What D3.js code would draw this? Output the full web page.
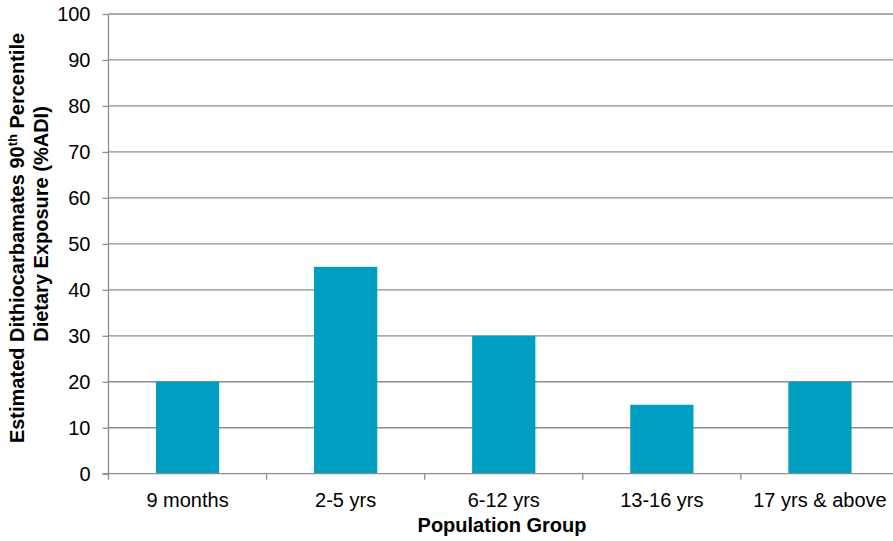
<!DOCTYPE html>
<html>
<head>
<meta charset="utf-8">
<script src="https://cdn.jsdelivr.net/npm/d3@7"></script>
<style>
  html, body { margin: 0; padding: 0; background: #fff; }
  svg { display: block; font-family: "Liberation Sans", Arial, sans-serif; }
</style>
</head>
<body>
<svg id="chart" width="893" height="541"></svg>
<script>
// Population groups and their 90th percentile dietary exposure (%ADI)
const groups = ["9 months", "2-5 yrs", "6-12 yrs", "13-16 yrs", "17 yrs & above"];
const exposure = [20, 45, 30, 15, 20];
const yTicks = [0, 10, 20, 30, 40, 50, 60, 70, 80, 90, 100];

const svg = d3.select("#chart");
const gridColor = "#8e8e8e";
const barColor = "#009fc2";

const plotLeft = 108.5, plotRight = 899, plotTop = 14, plotBottom = 473.7;

const x = d3.scaleBand().domain(groups).range([plotLeft, plotRight]).paddingInner(0).paddingOuter(0);
const y = d3.scaleLinear().domain([0, 100]).range([plotBottom, plotTop]);

// horizontal gridlines
svg.append("g")
  .selectAll("line")
  .data(yTicks.filter(d => d > 0))
  .join("line")
  .attr("x1", plotLeft).attr("x2", plotRight)
  .attr("y1", d => y(d)).attr("y2", d => y(d))
  .attr("stroke", gridColor).attr("stroke-width", 1.3);

// bars: Excel-style gap width of 150%
const barW = x.bandwidth() / 2.5;
svg.append("g")
  .selectAll("rect")
  .data(groups)
  .join("rect")
  .attr("x", (d) => x(d) + (x.bandwidth() - barW) / 2)
  .attr("width", barW)
  .attr("y", (d, i) => y(exposure[i]))
  .attr("height", (d, i) => y(0) - y(exposure[i]))
  .attr("fill", barColor);

// y axis
const yAxis = d3.axisLeft(y).tickValues(yTicks).tickSize(6).tickPadding(12).tickFormat(d3.format("d"));
const gy = svg.append("g").attr("transform", `translate(${plotLeft},0)`).call(yAxis);
gy.select(".domain").attr("stroke", gridColor).attr("stroke-width", 1.3).attr("d", `M0,${plotBottom}V${plotTop}`);
gy.selectAll(".tick line").attr("stroke", gridColor).attr("stroke-width", 1.3);
gy.selectAll(".tick text").attr("font-size", "20px").attr("fill", "#000")
  .attr("font-family", "Liberation Sans, Arial, sans-serif");

// x axis with ticks at category boundaries
const gx = svg.append("g").attr("transform", `translate(0,${plotBottom})`);
gx.append("line").attr("x1", plotLeft - 6).attr("x2", plotRight).attr("y1", 0).attr("y2", 0)
  .attr("stroke", gridColor).attr("stroke-width", 1.3);
const bounds = groups.map(d => x(d)).concat([plotRight]);
gx.selectAll("line.tk").data(bounds).join("line").attr("class", "tk")
  .attr("x1", d => d).attr("x2", d => d).attr("y1", 0).attr("y2", 6)
  .attr("stroke", gridColor).attr("stroke-width", 1.3);
gx.selectAll("text").data(groups).join("text")
  .attr("x", d => x(d) + x.bandwidth() / 2)
  .attr("y", 33)
  .attr("text-anchor", "middle")
  .attr("font-size", "20px")
  .attr("fill", "#000")
  .text(d => d);

// x axis title
svg.append("text")
  .attr("x", 502).attr("y", 532)
  .attr("text-anchor", "middle")
  .attr("font-size", "20px").attr("font-weight", "bold")
  .text("Population Group");

// y axis title, two lines rotated
const t1 = svg.append("text")
  .attr("transform", "translate(24,238) rotate(-90)")
  .attr("text-anchor", "middle")
  .attr("font-size", "20px").attr("font-weight", "bold");
t1.append("tspan").text("Estimated Dithiocarbamates 90");
t1.append("tspan").attr("font-size", "13px").attr("dy", "-7").text("th");
t1.append("tspan").attr("dy", "7").text(" Percentile");

svg.append("text")
  .attr("transform", "translate(48,224) rotate(-90)")
  .attr("text-anchor", "middle")
  .attr("font-size", "20px").attr("font-weight", "bold")
  .text("Dietary Exposure (%ADI)");
</script>
</body>
</html>
